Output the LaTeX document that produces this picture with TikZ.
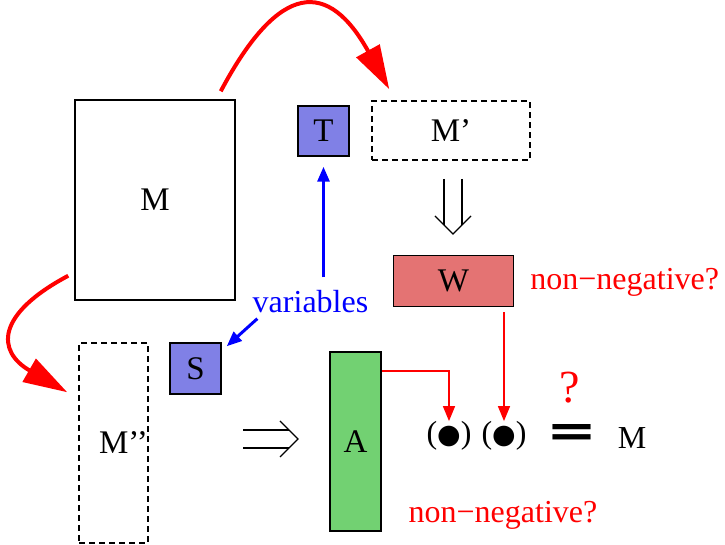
\documentclass[tikz,border=0pt]{standalone}
\usepackage{fontspec}
\setmainfont{Liberation Serif}
\newfontfamily\dotfont{DejaVu Sans}
\usepackage{graphicx}
\usepackage{tikz}
\usetikzlibrary{shapes, arrows, arrows.meta}
\definecolor{varblue}{RGB}{128,128,230}
\definecolor{wred}{RGB}{228,115,115}
\definecolor{agreen}{RGB}{114,209,114}
\tikzstyle{block} = [draw, rectangle, line width=0.75pt, inner sep=0pt, font=\fontsize{16.5}{19}\selectfont]
\tikzstyle{dashblock} = [block, dash pattern=on 3pt off 2pt]
\tikzstyle{note} = [inner sep=0pt, font=\fontsize{16}{19}\selectfont]

\begin{document}
\begin{tikzpicture}[x=0.5pt, y=0.5pt, >={Triangle[length=7.5pt,width=6pt]}]
        % 样式定义
        \tikzstyle{bigarrow} = [red, line width=2pt, -{Triangle[length=22pt,width=13pt]}]
        \tikzstyle{thinarrow} = [->, red, line width=0.75pt]
        \tikzstyle{vararrow} = [->, blue, line width=1.5pt]
        \tikzstyle{implies} = [line width=0.6pt]
        \useasboundingbox (0,0) rectangle (725,-545);

        % 放置节点
        \node [block, minimum width=80pt, minimum height=100pt] (M) at (155,-200) {M};
        \node [block, fill=varblue, minimum width=25.5pt, minimum height=25pt] (T) at (323.5,-131) {T};
        \node [dashblock, minimum width=79pt, minimum height=29.5pt] (Mp) at (451,-130.5) {M’};
        \node [block, fill=wred, minimum width=60pt, minimum height=25.5pt] (W) at (453.5,-281) {W};
        \node [note, text=red, anchor=west] (nonnegW) at (530,-282) {non−negative?};
        \node [note, text=blue] (variables) at (310.5,-302) {variables};
        \node [block, fill=varblue, minimum width=25.5pt, minimum height=25.5pt] (S) at (195.5,-368.5) {S};
        \node [dashblock, minimum width=34.5pt, minimum height=100pt,
               label={[font=\fontsize{16.5}{19}\selectfont, xshift=5pt]center:M’’}] (Mpp) at (113.5,-443) {};
        \node [block, fill=agreen, minimum width=25.5pt, minimum height=89.5pt] (A) at (355.5,-441.5) {A};
        \node [note] (dot1) at (449,-436) {(\raisebox{0.3pt}{\dotfont\fontsize{13.5}{15}\selectfont ●})};
        \node [note] (dot2) at (504,-436) {(\raisebox{0.3pt}{\dotfont\fontsize{13.5}{15}\selectfont ●})};
        \node [note] (eq) at (572,-436) {\resizebox{25.5pt}{11pt}{\dotfont\bfseries =}};
        \node [note, text=red, font=\fontsize{23}{26}\selectfont] (ques) at (570,-388) {?};
        \node [note] (Mres) at (632,-438) {M};
        \node [note, text=red] (nonnegA) at (503,-515) {non−negative?};

        % 红色大箭头
        \draw [bigarrow] ([shift={(-7.5pt,4pt)}]M.north east) to[out=62, in=119, looseness=1.9] ([shift={(9pt,5.5pt)}]Mp.north west);
        \draw [bigarrow] ([shift={(-3pt,12.5pt)}]M.south west) to[out=208, in=150, looseness=1.8] ([shift={(-5.5pt,-25pt)}]Mpp.north west);

        % variables
        \draw [vararrow] ([yshift=6.5pt]variables.north -| T.south) -- ([yshift=-5pt]T.south);
        \draw [vararrow] ([shift={(2.5pt,-2.5pt)}]variables.south west) -- ([shift={(2.5pt,-2pt)}]S.north east);

        % 双线箭头
        \coordinate (imp1) at (453,-179);
        \draw [implies] (imp1) ++(-4.5pt,0) -- ++(0,-23pt) (imp1) ++(4.5pt,0) -- ++(0,-23pt);
        \draw [implies] (imp1) ++(-9pt,-18.5pt) -- ++(9pt,-9pt) -- ++(9pt,9pt);
        \coordinate (imp2) at (243,-439);
        \draw [implies] (imp2) ++(0,4.5pt) -- ++(23pt,0) (imp2) ++(0,-4.5pt) -- ++(23pt,0);
        \draw [implies] (imp2) ++(18.5pt,9pt) -- ++(9pt,-9pt) -- ++(-9pt,-9pt);

        % 乘积
        \draw [thinarrow] ([yshift=-10pt]A.north east) -| (dot1.north);
        \draw [thinarrow] ([yshift=-2.5pt]W.south -| dot2) -- (dot2.north);
\end{tikzpicture}
\end{document}
